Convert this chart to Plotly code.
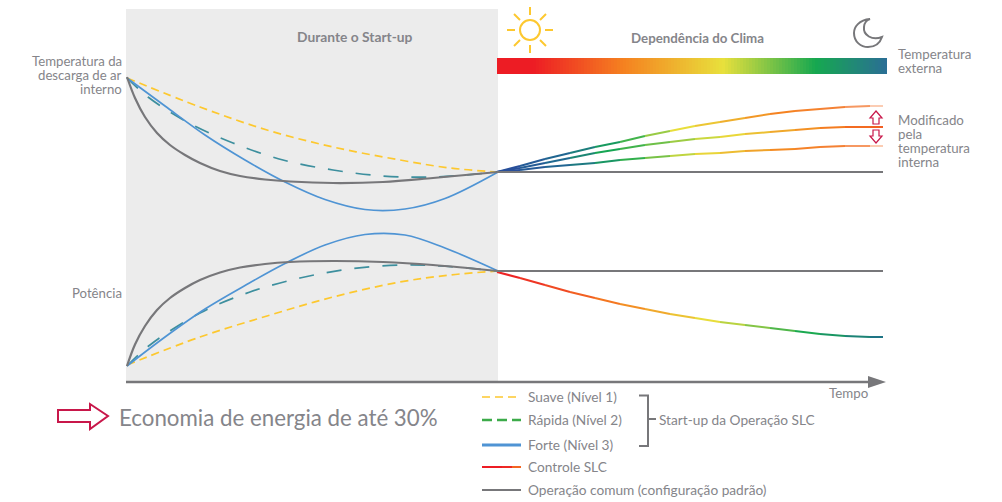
import plotly.graph_objects as go

temp_gray_x = [127, 135, 145, 157, 170, 185, 200, 220, 240, 265, 290, 333, 383, 433, 498]
temp_gray_y = [77, 98, 117, 133, 145, 155, 163, 171, 176, 179.5, 181.5, 183, 182, 178, 172]
temp_blue_x = [127, 165, 205, 245, 285, 325, 365, 405, 445, 498]
temp_blue_y = [78, 106, 135, 160, 182, 199.5, 209.5, 209, 198.5, 172]
temp_teal_x = [127, 148, 187, 233, 283, 333, 383, 433, 498]
temp_teal_y = [78, 97, 122, 143, 160, 170, 176, 177, 172]
temp_yellow_x = [127, 200, 267, 333, 400, 450, 498]
temp_yellow_y = [78, 107, 130, 147, 160, 168, 172]

pow_gray_x = [127, 135, 145, 157, 170, 185, 200, 220, 240, 265, 290, 333, 383, 433, 498]
pow_gray_y = [366, 344.5, 326, 310, 298, 288, 280, 272.5, 267.5, 264, 262, 261, 262, 265, 271]
pow_blue_x = [127, 165, 205, 245, 285, 325, 365, 405, 445, 498]
pow_blue_y = [366, 337, 309, 285.5, 263.5, 245, 234.5, 235, 248, 271]
pow_teal_x = [127, 150, 200, 250, 300, 350, 400, 440, 498]
pow_teal_y = [366, 345, 313, 292, 278, 269, 265, 266, 271]
pow_yellow_x = [127, 200, 267, 333, 400, 450, 498]
pow_yellow_y = [365, 337, 316, 297, 282, 275, 271]

climate_x = [497, 520, 545, 570, 595, 620, 645, 670, 695, 720, 745, 770, 795, 820, 845, 870, 883]
climate_upper = [172, 166, 159, 153, 147, 142, 136, 131, 126, 122, 118, 114, 111, 109, 107, 106, 106]
climate_mid = [172, 168, 163, 158, 153, 149, 145, 142, 139, 137, 134, 132, 130, 128, 127, 127, 127]
climate_low = [172, 170, 167, 165, 163, 160, 158, 156, 154, 153, 151, 150, 149, 147, 146, 146, 146]
slc_power = [272, 278, 285, 292, 298, 304, 309, 314, 318, 322, 325, 328, 331, 334, 336, 337, 337]

flat_x = [497, 883]
flat_temp = [172, 172]
flat_pow = [271, 271]

legend_labels = ["Suave (Nível 1)", "Rápida (Nível 2)", "Forte (Nível 3)", "Controle SLC",
                 "Operação comum (configuração padrão)"]
legend_y = [397, 420, 445, 467, 490]

GRAY = "#77777a"
TEXT = "#85858a"
YELLOW = "#fdc82f"
TEAL = "#3d8f9e"
BLUE = "#4f94d4"
CRIMSON = "#c8174a"
FONT = "Lato"


def hex_rgb(h):
    return [int(h[i:i + 2], 16) for i in (1, 3, 5)]


def grad(x, stops):
    for (a, ca), (b, cb) in zip(stops, stops[1:]):
        if a <= x <= b:
            t = (x - a) / (b - a)
            ra, rb = hex_rgb(ca), hex_rgb(cb)
            return "rgb(%d,%d,%d)" % tuple(round(p + (q - p) * t) for p, q in zip(ra, rb))
    return stops[-1][1]


fig = go.Figure()


def curve(x, y, color, width, dash=None, shape="spline"):
    fig.add_trace(go.Scatter(x=x, y=y, mode="lines", hoverinfo="skip", showlegend=False,
                             line=dict(color=color, width=width, dash=dash, shape=shape, smoothing=1.0)))


def gradient_line(x, y, stops, width=2):
    for i in range(len(x) - 1):
        curve(x[i:i + 2], y[i:i + 2], grad((x[i] + x[i + 1]) / 2, stops), width, shape="linear")


# gradient bar: x and y hold cell edges
bar_x = list(range(497, 888, 3))
bar_y = [58, 74]
bar_scale = [[0, "#ed1c24"], [0.09, "#ed1c24"], [0.325, "#f58220"], [0.58, "#e8e03c"],
             [0.82, "#16a850"], [1, "#2a6f94"]]
fig.add_trace(go.Heatmap(x=bar_x, y=bar_y, z=[bar_x[:-1]], colorscale=bar_scale,
                         showscale=False, hoverinfo="skip"))

# start-up curves
curve(temp_yellow_x, temp_yellow_y, YELLOW, 1.7, "8px,5px")
curve(temp_teal_x, temp_teal_y, TEAL, 1.7, "15px,13px")
curve(temp_blue_x, temp_blue_y, BLUE, 1.7)
curve(temp_gray_x, temp_gray_y, GRAY, 2.2)
curve(pow_yellow_x, pow_yellow_y, YELLOW, 1.7, "8px,5px")
curve(pow_teal_x, pow_teal_y, TEAL, 1.7, "15px,13px")
curve(pow_blue_x, pow_blue_y, BLUE, 1.7)
curve(pow_gray_x, pow_gray_y, GRAY, 2.2)

# climate-dependent curves
up_stops = [(497, "#2a4a9c"), (565, "#1f6a90"), (620, "#16a850"), (680, "#e8e03c"), (780, "#f58220"),
            (845, "#f4813a"), (870, "#f9b08a"), (883, "#fde8dc")]
mid_stops = [(497, "#2a4a9c"), (560, "#1f6a90"), (610, "#16a850"), (723, "#e8e03c"), (823, "#f58220"),
             (883, "#f15a22")]
low_stops = [(497, "#2a4a9c"), (570, "#1f6a90"), (623, "#16a850"), (697, "#e8e03c"), (790, "#f58220"),
             (845, "#f4813a"), (870, "#f9b08a"), (883, "#fde8dc")]
slc_stops = [(497, "#ed1c24"), (540, "#ee3a24"), (620, "#f58220"), (710, "#e8e03c"), (810, "#16a850"),
             (883, "#1f6f8a")]
gradient_line(climate_x, climate_upper, up_stops)
gradient_line(climate_x, climate_mid, mid_stops)
gradient_line(climate_x, climate_low, low_stops)
gradient_line(climate_x, slc_power, slc_stops)
curve(flat_x, flat_temp, GRAY, 2.2, shape="linear")
curve(flat_x, flat_pow, GRAY, 2.2, shape="linear")

# legend samples
curve([482, 521], [legend_y[0]] * 2, YELLOW, 1.7, "8px,5px", "linear")
curve([482, 521], [legend_y[1]] * 2, "#3cab4a", 2.4, "10px,5px", "linear")
curve([482, 521], [legend_y[2]] * 2, BLUE, 2.8, shape="linear")
gradient_line([482, 492, 502, 512, 521], [legend_y[3]] * 5, [(482, "#ed1c24"), (505, "#ed1c24"), (521, "#f58220")])
curve([482, 521], [legend_y[4]] * 2, GRAY, 2, shape="linear")

shapes = [
    dict(type="rect", x0=126, x1=498, y0=9, y1=381, fillcolor="#ececec", line_width=0, layer="below"),
    dict(type="line", x0=126, x1=870, y0=382, y1=382, line=dict(color=GRAY, width=2.4)),
    dict(type="path", path="M868 376 L886 382 L868 388 Z", fillcolor=GRAY, line_width=0),
    dict(type="path", path="M639 395.5 H648 V446 H639 M648 419 H656", line=dict(color=GRAY, width=2)),
    dict(type="path", path="M58 410 H90 V404 L108 416 L90 429 V422 H58 Z", line=dict(color=CRIMSON, width=2),
         fillcolor="rgba(0,0,0,0)"),
    dict(type="path", path="M876 111 L882 118 H879 V124 H873 V118 H870 Z", line=dict(color=CRIMSON, width=1.2),
         fillcolor="rgba(0,0,0,0)"),
    dict(type="path", path="M876 143 L882 136 H879 V130 H873 V136 H870 Z", line=dict(color=CRIMSON, width=1.2),
         fillcolor="rgba(0,0,0,0)"),
    dict(type="circle", x0=520, x1=540, y0=20, y1=40, line=dict(color="#fdc82f", width=2),
         fillcolor="rgba(0,0,0,0)"),
    dict(type="path",
         path="M870 19 C859 20 854 27 854 33 C854 42 861 47 868 47 C875 47 880 43 882 37 C872 41 863 35 864 27 C864 23 867 20 870 19 Z",
         line=dict(color=GRAY, width=2), fillcolor="rgba(0,0,0,0)"),
]
for x0, y0, x1, y1 in [(530, 7, 530, 15), (530, 45, 530, 53), (507, 30, 515, 30), (545, 30, 553, 30),
                       (514, 14, 520, 20), (540, 40, 546, 46), (514, 46, 520, 40), (540, 20, 546, 14)]:
    shapes.append(dict(type="line", x0=x0, x1=x1, y0=y0, y1=y1, line=dict(color="#fdc82f", width=2)))


def label(x, y, text, size=13.3, anchor="left", color=TEXT):
    return dict(x=x, y=y, text=text, xanchor=anchor, yanchor="middle", showarrow=False, align=anchor,
                font=dict(family=FONT, size=size, color=color), xref="x", yref="y")


annotations = [
    label(355, 36, "<b>Durante o Start-up</b>", 13.8, "center"),
    label(697, 38, "<b>Dependência do Clima</b>", 13.3, "center"),
    label(124, 61, "Temperatura da", 13.2, "right"),
    label(124, 75, "descarga de ar", 13.2, "right"),
    label(124, 89, "interno", 13.2, "right"),
    label(124, 293, "Potência", 13.2, "right"),
    label(896, 54, "Temperatura"),
    label(896, 68, "externa"),
    label(896, 120, "Modificado"),
    label(896, 134, "pela"),
    label(896, 148, "temperatura"),
    label(896, 162, "interna"),
    label(870, 393, "Tempo", 13.3, "right"),
    label(117, 417, "Economia de energia de até 30%", 22.3),
    label(657, 419, "Start-up da Operação SLC", 13.7),
]
annotations += [label(526, y - 1, t, 13.7) for t, y in zip(legend_labels, legend_y)]

fig.update_layout(
    width=1002, height=502, margin=dict(l=0, r=0, t=0, b=0), autosize=False,
    paper_bgcolor="white", plot_bgcolor="white", showlegend=False,
    xaxis=dict(range=[0, 1002], visible=False, fixedrange=True),
    yaxis=dict(range=[502, 0], visible=False, fixedrange=True),
    shapes=shapes, annotations=annotations,
)
fig.write_html("out.html", config={"displayModeBar": False},
               post_script="document.body.style.margin='0';document.body.style.overflow='hidden';")
